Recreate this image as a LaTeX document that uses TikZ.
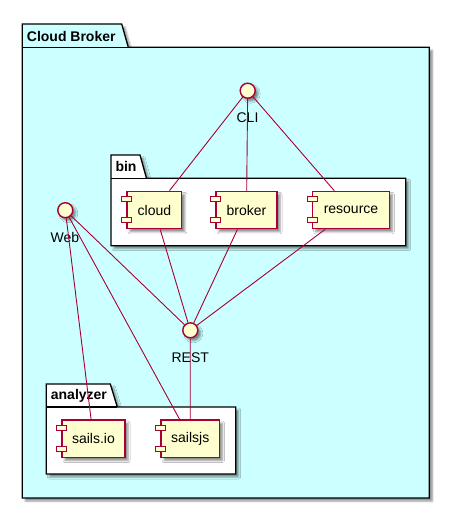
\documentclass[tikz,border=0pt]{standalone}
\usepackage{fontspec}
\setmainfont{Liberation Sans}
\usetikzlibrary{shadows.blur}
\definecolor{pumlred}{HTML}{A80036}
\definecolor{pumlfill}{HTML}{FEFECE}
\definecolor{pumlcyan}{HTML}{CCFFFF}
\tikzset{
  shad/.style={blur shadow={shadow xshift=3pt, shadow yshift=-3pt, shadow opacity=45, shadow blur radius=2pt}},
  comp/.style={draw=pumlred, fill=pumlfill, line width=1.3pt, minimum height=37.5pt, inner sep=0pt, font=\fontsize{14}{16}\selectfont, shad},
  iface/.style={circle, draw=pumlred, fill=pumlfill, line width=1.4pt, minimum size=15pt, inner sep=0pt, shad},
  lbl/.style={font=\fontsize{14}{16}\selectfont, inner sep=0pt},
  conn/.style={draw=pumlred, line width=0.9pt},
  pkg/.style={draw=black, line width=1.3pt, line join=miter, shad},
  pkgtitle/.style={font=\bfseries\fontsize{14}{16}\selectfont, anchor=west, inner sep=0pt},
  port/.style={draw=pumlred, fill=pumlfill, line width=1pt}
}
\newcommand\compports[1]{%
  \draw[port] ([shift={(-5,5.7)}]#1.north west) rectangle ++(10,5.3);
  \draw[port] ([shift={(-5,27)}]#1.north west) rectangle ++(10,5.3);
}
\begin{document}
\begin{tikzpicture}[x=1pt,y=-1pt]
\useasboundingbox (0,0) rectangle (450,509);
% Cloud Broker package
\draw[pkg, fill=pumlcyan] (22.3,24) -- (121.7,24) -- (128.3,47.3) -- (429.3,47.3) -- (429.3,498) -- (22.3,498) -- cycle;
\draw[line width=1.3pt] (22.3,47.3) -- (128.3,47.3);
\node[pkgtitle] (tCB) at (26.7,36) {Cloud Broker};
% bin package
\draw[pkg, fill=white] (111,155) -- (140,155) -- (146.5,178.3) -- (405.7,178.3) -- (405.7,245.7) -- (111,245.7) -- cycle;
\draw[line width=1.3pt] (111,178.3) -- (146.5,178.3);
\node[pkgtitle] (tbin) at (115.3,166.7) {bin};
% analyzer package
\draw[pkg, fill=white] (46.3,384) -- (110.3,384) -- (117.3,407) -- (235.7,407) -- (235.7,474) -- (46.3,474) -- cycle;
\draw[line width=1.3pt] (46.3,407) -- (117.3,407);
\node[pkgtitle] (tan) at (50.7,396) {analyzer};
% components
\node[comp, minimum width=54.7pt] (cloud) at (154.4,210) {cloud};
\node[comp, minimum width=61pt] (broker) at (246.5,210) {broker};
\node[comp, minimum width=76.6pt] (resource) at (351,210) {resource};
\node[comp, minimum width=63pt] (sailsio) at (93.5,438.8) {sails.io};
\node[comp, minimum width=58.3pt] (sailsjs) at (190.2,438.8) {sailsjs};
\compports{cloud}
\compports{broker}
\compports{resource}
\compports{sailsio}
\compports{sailsjs}
% interfaces
\node[iface] (CLI) at (247.7,90.7) {};
\node[lbl] (CLIl) at (247.5,117.7) {CLI};
\node[iface] (Web) at (65.3,210.2) {};
\node[lbl] (Webl) at (65,237) {Web};
\node[iface] (REST) at (190.3,330.3) {};
\node[lbl] (RESTl) at (190.3,357.3) {REST};
% connectors
\draw[conn] (CLI) -- (cloud);
\draw[conn] (CLI) -- (broker);
\draw[conn] (CLI) -- (resource);
\draw[conn] (cloud) -- (REST);
\draw[conn] (broker) -- (REST);
\draw[conn] (resource) -- (REST);
\draw[conn] (Web) -- (REST);
\draw[conn] (Web) -- (sailsio);
\draw[conn] (Web) -- (sailsjs);
\draw[conn] (REST) -- (sailsjs);
\end{tikzpicture}
\end{document}
